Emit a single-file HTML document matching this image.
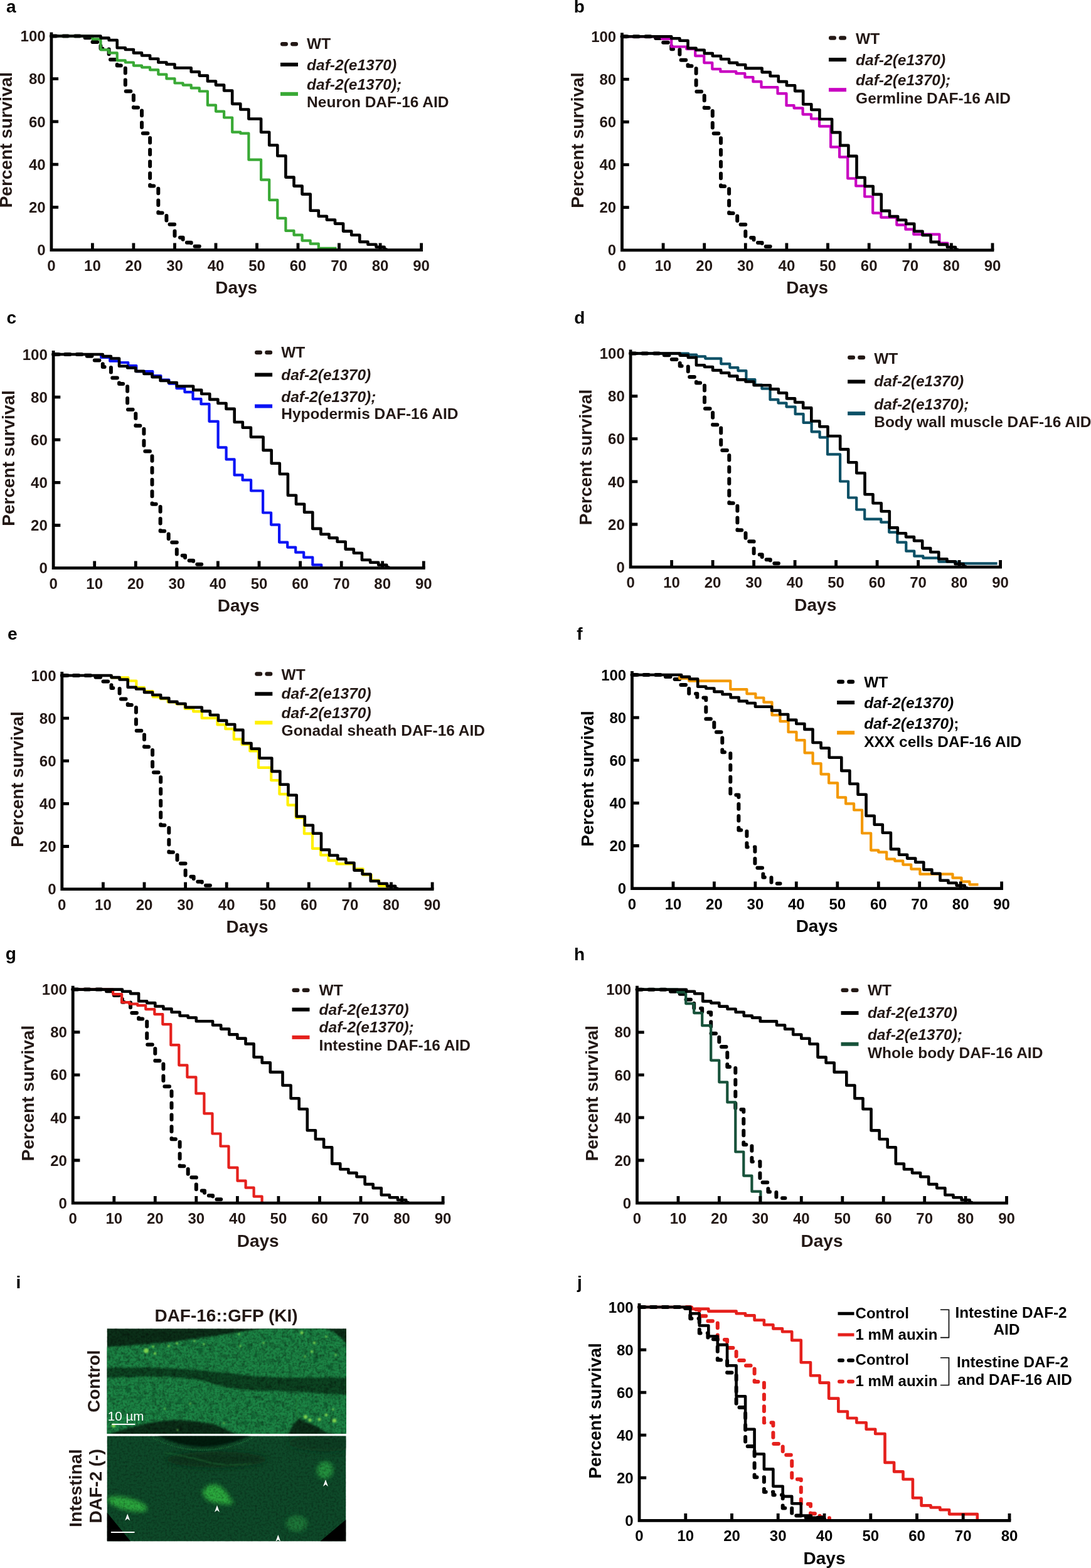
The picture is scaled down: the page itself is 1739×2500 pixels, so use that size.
<!DOCTYPE html>
<html><head><meta charset="utf-8"><style>
html,body{margin:0;padding:0;background:#fff;}
svg{display:block;}
text{font-family:"Liberation Sans",Arial,sans-serif;font-weight:bold;}
</style></head><body>
<svg width="1739" height="2500" viewBox="0 0 1739 2500">
<g>
<path d="M81.9 57.5H134.3V60.2H147.4V67.1H160.5V77.6H173.6V95.0H186.7V104.6H199.8V145.5H212.9V171.4H226.0V212.4H239.1V296.6H252.3V339.6H265.4V357.7H278.5V378.8H291.6V386.7H304.7V392.8H317.8" fill="none" stroke="#000" stroke-width="6.0" stroke-linecap="round" stroke-linejoin="round" stroke-dasharray="7.6 11.2"/>
<path d="M81.9 57.5H147.4V62.3H160.5V79.3H173.6V84.4H186.7V96.4H199.8V99.5H212.9V104.6H226.0V107.3H239.1V111.4H252.3V118.6H265.4V125.4H278.5V132.5H291.6V135.6H304.7V140.4H317.8V145.5H330.9V167.7H344.0V177.6H357.1V187.5H370.2V210.7H383.3V212.7H396.4V254.7H416.1V286.7H429.2V318.8H442.3V347.8H455.4V367.9H468.5V374.7H481.6V383.6H494.7V388.7H507.8V395.9H536.6" fill="none" stroke="#39a935" stroke-width="4.2" stroke-linejoin="round"/>
<path d="M81.9 57.5H160.5V60.6H173.6V64.0H186.7V76.3H199.8V79.0H212.9V84.4H226.0V88.5H239.1V93.7H252.3V99.5H265.4V102.5H278.5V108.3H304.7V114.5H317.8V120.6H330.9V129.5H344.0V135.6H357.1V144.5H370.2V165.6H383.3V174.5H396.4V189.5H416.1V210.7H429.2V231.5H442.3V248.5H455.4V282.6H468.5V296.6H481.6V309.6H494.7V335.8H507.8V344.7H520.9V350.5H534.0V356.6H547.1V368.6H560.2V374.7H573.3V385.6H586.4V389.7H599.5V393.8H612.6V397.6H615.9V398.6" fill="none" stroke="#000" stroke-width="4.6" stroke-linejoin="round"/>
<path d="M81.9 54.0V398.6H671.6" fill="none" stroke="#000" stroke-width="4.8" stroke-linecap="square"/>
<path d="M147.4 398.6V387.4M212.9 398.6V387.4M278.5 398.6V387.4M344.0 398.6V387.4M409.5 398.6V387.4M475.0 398.6V387.4M540.5 398.6V387.4M606.1 398.6V387.4M671.6 398.6V387.4M81.9 330.4H93.1M81.9 262.2H93.1M81.9 193.9H93.1M81.9 125.7H93.1M81.9 57.5H93.1" stroke="#000" stroke-width="4.8"/>
<text x="81.9" y="431.6" text-anchor="middle" font-size="24" fill="#231815">0</text>
<text x="147.4" y="431.6" text-anchor="middle" font-size="24" fill="#231815">10</text>
<text x="212.9" y="431.6" text-anchor="middle" font-size="24" fill="#231815">20</text>
<text x="278.5" y="431.6" text-anchor="middle" font-size="24" fill="#231815">30</text>
<text x="344.0" y="431.6" text-anchor="middle" font-size="24" fill="#231815">40</text>
<text x="409.5" y="431.6" text-anchor="middle" font-size="24" fill="#231815">50</text>
<text x="475.0" y="431.6" text-anchor="middle" font-size="24" fill="#231815">60</text>
<text x="540.5" y="431.6" text-anchor="middle" font-size="24" fill="#231815">70</text>
<text x="606.1" y="431.6" text-anchor="middle" font-size="24" fill="#231815">80</text>
<text x="671.6" y="431.6" text-anchor="middle" font-size="24" fill="#231815">90</text>
<text x="72.6" y="407.2" text-anchor="end" font-size="24" fill="#231815">0</text>
<text x="72.6" y="339.0" text-anchor="end" font-size="24" fill="#231815">20</text>
<text x="72.6" y="270.8" text-anchor="end" font-size="24" fill="#231815">40</text>
<text x="72.6" y="202.5" text-anchor="end" font-size="24" fill="#231815">60</text>
<text x="72.6" y="134.3" text-anchor="end" font-size="24" fill="#231815">80</text>
<text x="72.6" y="66.1" text-anchor="end" font-size="24" fill="#231815">100</text>
<text x="376.7" y="468.1" text-anchor="middle" font-size="28" fill="#231815">Days</text>
<text transform="translate(19.3 223.2) rotate(-90)" text-anchor="middle" font-size="28" fill="#231815">Percent survival</text>
<text x="10.0" y="20.1" font-size="28" fill="#000">a</text>
<path d="M450.2 70.2h5.5M466.3 70.2h5.5" stroke="#231815" stroke-width="6.5" stroke-linecap="round"/>
<path d="M447.0 102.9h28.0" stroke="#000" stroke-width="6"/>
<path d="M447.0 149.8h28.0" stroke="#39a935" stroke-width="6"/>
<text x="489.1" y="78.2" font-size="24.5" fill="#231815">WT</text>
<text x="489.1" y="112.0" font-size="24.5" font-style="italic" fill="#231815">daf-2(e1370)</text>
<text x="489.1" y="143.0" font-size="24.5" font-style="italic" fill="#231815">daf-2(e1370);</text>
<text x="489.1" y="171.2" font-size="24.5" fill="#231815">Neuron DAF-16 AID</text>
</g>
<g>
<path d="M991.5 58.2H1044.0V60.9H1057.1V67.7H1070.2V78.3H1083.4V95.7H1096.5V105.2H1109.6V146.1H1122.7V172.0H1135.8V212.8H1149.0V297.0H1162.1V339.9H1175.2V357.9H1188.3V379.0H1201.5V386.9H1214.6V393.0H1227.7" fill="none" stroke="#000" stroke-width="6.0" stroke-linecap="round" stroke-linejoin="round" stroke-dasharray="7.6 11.2"/>
<path d="M991.5 58.2H1055.1V62.0H1070.2V74.5H1094.2V78.1H1108.2V89.1H1122.3V100.1H1135.3V110.1H1148.3V114.2H1173.4V117.2H1187.4V123.2H1200.4V130.2H1213.5V139.2H1239.5V149.2H1253.5V168.2H1265.6V172.3H1279.6V182.3H1293.0V189.3H1306.0V201.3H1324.1V234.4H1338.1V250.4H1351.2V284.5H1364.2V296.5H1378.2V313.5H1391.2V339.6H1404.3V346.6H1429.3V358.6H1443.4V365.7H1456.3V373.7H1497.4V387.7H1510.5V396.3" fill="none" stroke="#c800c1" stroke-width="4.2" stroke-linejoin="round"/>
<path d="M991.5 58.2H1070.2V61.3H1083.4V64.7H1096.5V76.9H1109.6V79.7H1122.7V85.1H1135.8V89.2H1149.0V94.3H1162.1V100.1H1175.2V103.2H1188.3V108.9H1214.6V115.1H1227.7V121.2H1240.8V130.1H1253.9V136.2H1267.1V145.1H1280.2V166.2H1293.3V175.0H1306.4V190.0H1326.1V211.1H1339.2V231.9H1352.4V248.9H1365.5V283.0H1378.6V297.0H1391.7V309.9H1404.8V336.1H1418.0V345.0H1431.1V350.8H1444.2V356.9H1457.3V368.8H1470.5V375.0H1483.6V385.9H1496.7V389.9H1509.8V394.0H1522.9V397.8H1526.2V398.8" fill="none" stroke="#000" stroke-width="4.6" stroke-linejoin="round"/>
<path d="M991.5 54.7V398.8H1582.0" fill="none" stroke="#000" stroke-width="4.8" stroke-linecap="square"/>
<path d="M1057.1 398.8V387.6M1122.7 398.8V387.6M1188.3 398.8V387.6M1253.9 398.8V387.6M1319.5 398.8V387.6M1385.2 398.8V387.6M1450.8 398.8V387.6M1516.4 398.8V387.6M1582.0 398.8V387.6M991.5 330.7H1002.7M991.5 262.6H1002.7M991.5 194.4H1002.7M991.5 126.3H1002.7M991.5 58.2H1002.7" stroke="#000" stroke-width="4.8"/>
<text x="991.5" y="431.8" text-anchor="middle" font-size="24" fill="#231815">0</text>
<text x="1057.1" y="431.8" text-anchor="middle" font-size="24" fill="#231815">10</text>
<text x="1122.7" y="431.8" text-anchor="middle" font-size="24" fill="#231815">20</text>
<text x="1188.3" y="431.8" text-anchor="middle" font-size="24" fill="#231815">30</text>
<text x="1253.9" y="431.8" text-anchor="middle" font-size="24" fill="#231815">40</text>
<text x="1319.5" y="431.8" text-anchor="middle" font-size="24" fill="#231815">50</text>
<text x="1385.2" y="431.8" text-anchor="middle" font-size="24" fill="#231815">60</text>
<text x="1450.8" y="431.8" text-anchor="middle" font-size="24" fill="#231815">70</text>
<text x="1516.4" y="431.8" text-anchor="middle" font-size="24" fill="#231815">80</text>
<text x="1582.0" y="431.8" text-anchor="middle" font-size="24" fill="#231815">90</text>
<text x="982.2" y="407.4" text-anchor="end" font-size="24" fill="#231815">0</text>
<text x="982.2" y="339.3" text-anchor="end" font-size="24" fill="#231815">20</text>
<text x="982.2" y="271.2" text-anchor="end" font-size="24" fill="#231815">40</text>
<text x="982.2" y="203.0" text-anchor="end" font-size="24" fill="#231815">60</text>
<text x="982.2" y="134.9" text-anchor="end" font-size="24" fill="#231815">80</text>
<text x="982.2" y="66.8" text-anchor="end" font-size="24" fill="#231815">100</text>
<text x="1286.7" y="468.3" text-anchor="middle" font-size="28" fill="#231815">Days</text>
<text transform="translate(929.5 223.7) rotate(-90)" text-anchor="middle" font-size="28" fill="#231815">Percent survival</text>
<text x="914.7" y="19.9" font-size="28" fill="#000">b</text>
<path d="M1324.2 60.5h5.5M1340.3 60.5h5.5" stroke="#231815" stroke-width="6.5" stroke-linecap="round"/>
<path d="M1321.0 95.1h28.0" stroke="#000" stroke-width="6"/>
<path d="M1321.0 143.2h28.0" stroke="#c800c1" stroke-width="6"/>
<text x="1364.1" y="69.7" font-size="24.5" fill="#231815">WT</text>
<text x="1364.1" y="103.7" font-size="24.5" font-style="italic" fill="#231815">daf-2(e1370)</text>
<text x="1364.1" y="136.2" font-size="24.5" font-style="italic" fill="#231815">daf-2(e1370);</text>
<text x="1364.1" y="164.6" font-size="24.5" fill="#231815">Germline DAF-16 AID</text>
</g>
<g>
<path d="M85.1 565.0H137.6V567.7H150.7V574.5H163.8V585.1H176.9V602.5H190.0V612.0H203.1V652.9H216.3V678.8H229.4V719.6H242.5V803.8H255.6V846.7H268.7V864.7H281.8V885.8H295.0V893.7H308.1V899.8H321.2" fill="none" stroke="#000" stroke-width="6.0" stroke-linecap="round" stroke-linejoin="round" stroke-dasharray="7.6 11.2"/>
<path d="M85.1 565.0H161.2V570.0H175.2V575.7H190.2V578.0H204.3V583.1H217.3V592.1H243.3V599.1H256.4V605.7H269.4V611.7H281.4V619.1H294.4V625.1H307.5V636.2H320.5V644.2H333.5V671.8H347.6V713.3H360.6V732.4H373.6V757.4H386.6V765.4H400.1V782.5H419.1V817.5H432.1V836.6H445.1V864.6H458.2V872.6H471.2V880.7H484.2V888.7H498.3V900.7H512.3V905.6" fill="none" stroke="#0a14f5" stroke-width="4.2" stroke-linejoin="round"/>
<path d="M85.1 565.0H163.8V568.1H176.9V571.5H190.0V583.7H203.1V586.5H216.3V591.9H229.4V596.0H242.5V601.1H255.6V606.9H268.7V610.0H281.8V615.7H308.1V621.9H321.2V628.0H334.3V636.9H347.4V643.0H360.5V651.9H373.7V673.0H386.8V681.8H399.9V696.8H419.6V717.9H432.7V738.7H445.8V755.7H458.9V789.8H472.0V803.8H485.1V816.7H498.3V842.9H511.4V851.8H524.5V857.6H537.6V863.7H550.7V875.6H563.8V881.8H576.9V892.7H590.1V896.7H603.2V900.8H616.3V904.6H619.6V905.6" fill="none" stroke="#000" stroke-width="4.6" stroke-linejoin="round"/>
<path d="M85.1 561.5V905.6H675.3" fill="none" stroke="#000" stroke-width="4.8" stroke-linecap="square"/>
<path d="M150.7 905.6V894.4M216.3 905.6V894.4M281.8 905.6V894.4M347.4 905.6V894.4M413.0 905.6V894.4M478.6 905.6V894.4M544.2 905.6V894.4M609.7 905.6V894.4M675.3 905.6V894.4M85.1 837.5H96.3M85.1 769.4H96.3M85.1 701.2H96.3M85.1 633.1H96.3M85.1 565.0H96.3" stroke="#000" stroke-width="4.8"/>
<text x="85.1" y="938.6" text-anchor="middle" font-size="24" fill="#231815">0</text>
<text x="150.7" y="938.6" text-anchor="middle" font-size="24" fill="#231815">10</text>
<text x="216.3" y="938.6" text-anchor="middle" font-size="24" fill="#231815">20</text>
<text x="281.8" y="938.6" text-anchor="middle" font-size="24" fill="#231815">30</text>
<text x="347.4" y="938.6" text-anchor="middle" font-size="24" fill="#231815">40</text>
<text x="413.0" y="938.6" text-anchor="middle" font-size="24" fill="#231815">50</text>
<text x="478.6" y="938.6" text-anchor="middle" font-size="24" fill="#231815">60</text>
<text x="544.2" y="938.6" text-anchor="middle" font-size="24" fill="#231815">70</text>
<text x="609.7" y="938.6" text-anchor="middle" font-size="24" fill="#231815">80</text>
<text x="675.3" y="938.6" text-anchor="middle" font-size="24" fill="#231815">90</text>
<text x="75.8" y="914.2" text-anchor="end" font-size="24" fill="#231815">0</text>
<text x="75.8" y="846.1" text-anchor="end" font-size="24" fill="#231815">20</text>
<text x="75.8" y="778.0" text-anchor="end" font-size="24" fill="#231815">40</text>
<text x="75.8" y="709.8" text-anchor="end" font-size="24" fill="#231815">60</text>
<text x="75.8" y="641.7" text-anchor="end" font-size="24" fill="#231815">80</text>
<text x="75.8" y="573.6" text-anchor="end" font-size="24" fill="#231815">100</text>
<text x="380.2" y="975.1" text-anchor="middle" font-size="28" fill="#231815">Days</text>
<text transform="translate(23.2 730.5) rotate(-90)" text-anchor="middle" font-size="28" fill="#231815">Percent survival</text>
<text x="10.6" y="516.4" font-size="28" fill="#000">c</text>
<path d="M409.3 562.0h5.5M425.4 562.0h5.5" stroke="#231815" stroke-width="6.5" stroke-linecap="round"/>
<path d="M406.1 597.5h28.0" stroke="#000" stroke-width="6"/>
<path d="M406.1 647.6h28.0" stroke="#0a14f5" stroke-width="6"/>
<text x="448.2" y="570.0" font-size="24.5" fill="#231815">WT</text>
<text x="448.2" y="606.1" font-size="24.5" font-style="italic" fill="#231815">daf-2(e1370)</text>
<text x="448.2" y="641.2" font-size="24.5" font-style="italic" fill="#231815">daf-2(e1370);</text>
<text x="448.2" y="668.2" font-size="24.5" fill="#231815">Hypodermis DAF-16 AID</text>
</g>
<g>
<path d="M1005.1 563.5H1057.5V566.2H1070.6V573.0H1083.7V583.6H1096.8V601.0H1109.9V610.5H1123.0V651.4H1136.1V677.3H1149.2V718.1H1162.3V802.3H1175.4V845.2H1188.5V863.2H1201.6V884.3H1214.7V892.2H1227.8V898.3H1240.9" fill="none" stroke="#000" stroke-width="6.0" stroke-linecap="round" stroke-linejoin="round" stroke-dasharray="7.6 11.2"/>
<path d="M1005.1 563.5H1097.2V565.6H1110.2V568.4H1124.2V571.6H1149.3V580.1H1163.3V586.1H1176.4V591.1H1189.4V605.1H1203.4V613.7H1214.4V619.7H1227.5V637.2H1240.5V642.6H1253.5V648.6H1267.6V660.2H1280.6V673.9H1293.6V688.3H1306.6V697.3H1319.0V724.4H1339.1V767.5H1352.1V793.5H1365.2V812.5H1378.2V827.6H1404.3V832.6H1417.2V848.6H1430.3V864.6H1444.3V878.7H1457.3V886.7H1471.4V889.7H1496.4V895.7H1524.4V898.3H1589.6" fill="none" stroke="#0b5066" stroke-width="4.2" stroke-linejoin="round"/>
<path d="M1005.1 563.5H1083.7V566.6H1096.8V570.0H1109.9V582.2H1123.0V585.0H1136.1V590.4H1149.2V594.5H1162.3V599.6H1175.4V605.4H1188.5V608.5H1201.6V614.2H1227.8V620.4H1240.9V626.5H1254.0V635.4H1267.1V641.5H1280.2V650.4H1293.3V671.5H1306.4V680.3H1319.5V695.3H1339.2V716.4H1352.2V737.2H1365.3V754.2H1378.5V788.3H1391.5V802.3H1404.7V815.2H1417.8V841.4H1430.8V850.3H1444.0V856.1H1457.0V862.2H1470.2V874.1H1483.2V880.3H1496.3V891.2H1509.5V895.2H1522.5V899.3H1535.7V903.1H1538.9V904.1" fill="none" stroke="#000" stroke-width="4.6" stroke-linejoin="round"/>
<path d="M1005.1 560.0V904.1H1594.6" fill="none" stroke="#000" stroke-width="4.8" stroke-linecap="square"/>
<path d="M1070.6 904.1V892.9M1136.1 904.1V892.9M1201.6 904.1V892.9M1267.1 904.1V892.9M1332.6 904.1V892.9M1398.1 904.1V892.9M1463.6 904.1V892.9M1529.1 904.1V892.9M1594.6 904.1V892.9M1005.1 836.0H1016.3M1005.1 767.9H1016.3M1005.1 699.7H1016.3M1005.1 631.6H1016.3M1005.1 563.5H1016.3" stroke="#000" stroke-width="4.8"/>
<text x="1005.1" y="937.1" text-anchor="middle" font-size="24" fill="#231815">0</text>
<text x="1070.6" y="937.1" text-anchor="middle" font-size="24" fill="#231815">10</text>
<text x="1136.1" y="937.1" text-anchor="middle" font-size="24" fill="#231815">20</text>
<text x="1201.6" y="937.1" text-anchor="middle" font-size="24" fill="#231815">30</text>
<text x="1267.1" y="937.1" text-anchor="middle" font-size="24" fill="#231815">40</text>
<text x="1332.6" y="937.1" text-anchor="middle" font-size="24" fill="#231815">50</text>
<text x="1398.1" y="937.1" text-anchor="middle" font-size="24" fill="#231815">60</text>
<text x="1463.6" y="937.1" text-anchor="middle" font-size="24" fill="#231815">70</text>
<text x="1529.1" y="937.1" text-anchor="middle" font-size="24" fill="#231815">80</text>
<text x="1594.6" y="937.1" text-anchor="middle" font-size="24" fill="#231815">90</text>
<text x="995.8" y="912.7" text-anchor="end" font-size="24" fill="#231815">0</text>
<text x="995.8" y="844.6" text-anchor="end" font-size="24" fill="#231815">20</text>
<text x="995.8" y="776.5" text-anchor="end" font-size="24" fill="#231815">40</text>
<text x="995.8" y="708.3" text-anchor="end" font-size="24" fill="#231815">60</text>
<text x="995.8" y="640.2" text-anchor="end" font-size="24" fill="#231815">80</text>
<text x="995.8" y="572.1" text-anchor="end" font-size="24" fill="#231815">100</text>
<text x="1299.8" y="973.6" text-anchor="middle" font-size="28" fill="#231815">Days</text>
<text transform="translate(943.4 729.0) rotate(-90)" text-anchor="middle" font-size="28" fill="#231815">Percent survival</text>
<text x="915.2" y="516.4" font-size="28" fill="#000">d</text>
<path d="M1354.3 570.0h5.5M1370.4 570.0h5.5" stroke="#231815" stroke-width="6.5" stroke-linecap="round"/>
<path d="M1351.1 608.5h28.0" stroke="#000" stroke-width="6"/>
<path d="M1351.1 659.2h28.0" stroke="#0b5066" stroke-width="6"/>
<text x="1393.2" y="580.1" font-size="24.5" fill="#231815">WT</text>
<text x="1393.2" y="616.1" font-size="24.5" font-style="italic" fill="#231815">daf-2(e1370)</text>
<text x="1393.2" y="653.2" font-size="24.5" font-style="italic" fill="#231815">daf-2(e1370);</text>
<text x="1393.2" y="681.3" font-size="24.5" fill="#231815">Body wall muscle DAF-16 AID</text>
</g>
<g>
<path d="M98.8 1077.0H151.3V1079.7H164.4V1086.5H177.5V1097.1H190.6V1114.5H203.7V1124.0H216.9V1164.9H230.0V1190.8H243.1V1231.6H256.2V1315.8H269.3V1358.7H282.5V1376.7H295.6V1397.8H308.7V1405.7H321.8V1411.8H334.9" fill="none" stroke="#000" stroke-width="6.0" stroke-linecap="round" stroke-linejoin="round" stroke-dasharray="7.6 11.2"/>
<path d="M98.8 1077.0H177.5V1080.4H204.5V1085.5H217.3V1096.1H230.0V1102.1H243.6V1111.1H255.6V1114.1H267.6V1119.4H281.1V1122.4H294.7V1129.9H308.2V1134.4H321.7V1144.9H346.5V1155.4H359.3V1162.2H372.8V1178.7H385.6V1187.0H398.3V1197.5H411.9V1223.8H432.2V1244.1H445.4V1266.1H458.6V1283.6H471.7V1303.8H484.9V1329.2H498.0V1352.9H511.2V1363.4H523.4V1372.1H536.6V1377.4H563.8V1385.3H578.7V1394.9H591.8V1403.7H604.1V1412.5H616.4V1416.3H619.0" fill="none" stroke="#fff000" stroke-width="4.2" stroke-linejoin="round"/>
<path d="M98.8 1077.0H177.5V1080.1H190.6V1083.5H203.7V1095.7H216.9V1098.5H230.0V1103.9H243.1V1108.0H256.2V1113.1H269.3V1118.9H282.5V1122.0H295.6V1127.7H321.8V1133.9H334.9V1140.0H348.0V1148.9H361.2V1155.0H374.3V1163.9H387.4V1185.0H400.5V1193.8H413.6V1208.8H433.3V1229.9H446.4V1250.7H459.5V1267.7H472.7V1301.8H485.8V1315.8H498.9V1328.7H512.0V1354.9H525.1V1363.8H538.3V1369.6H551.4V1375.7H564.5V1387.6H577.6V1393.8H590.7V1404.7H603.8V1408.7H617.0V1412.8H630.1V1416.6H633.4V1417.6" fill="none" stroke="#000" stroke-width="4.6" stroke-linejoin="round"/>
<path d="M98.8 1073.5V1417.6H689.1" fill="none" stroke="#000" stroke-width="4.8" stroke-linecap="square"/>
<path d="M164.4 1417.6V1406.4M230.0 1417.6V1406.4M295.6 1417.6V1406.4M361.2 1417.6V1406.4M426.8 1417.6V1406.4M492.3 1417.6V1406.4M557.9 1417.6V1406.4M623.5 1417.6V1406.4M689.1 1417.6V1406.4M98.8 1349.5H110.0M98.8 1281.4H110.0M98.8 1213.2H110.0M98.8 1145.1H110.0M98.8 1077.0H110.0" stroke="#000" stroke-width="4.8"/>
<text x="98.8" y="1450.6" text-anchor="middle" font-size="24" fill="#231815">0</text>
<text x="164.4" y="1450.6" text-anchor="middle" font-size="24" fill="#231815">10</text>
<text x="230.0" y="1450.6" text-anchor="middle" font-size="24" fill="#231815">20</text>
<text x="295.6" y="1450.6" text-anchor="middle" font-size="24" fill="#231815">30</text>
<text x="361.2" y="1450.6" text-anchor="middle" font-size="24" fill="#231815">40</text>
<text x="426.8" y="1450.6" text-anchor="middle" font-size="24" fill="#231815">50</text>
<text x="492.3" y="1450.6" text-anchor="middle" font-size="24" fill="#231815">60</text>
<text x="557.9" y="1450.6" text-anchor="middle" font-size="24" fill="#231815">70</text>
<text x="623.5" y="1450.6" text-anchor="middle" font-size="24" fill="#231815">80</text>
<text x="689.1" y="1450.6" text-anchor="middle" font-size="24" fill="#231815">90</text>
<text x="89.5" y="1426.2" text-anchor="end" font-size="24" fill="#231815">0</text>
<text x="89.5" y="1358.1" text-anchor="end" font-size="24" fill="#231815">20</text>
<text x="89.5" y="1290.0" text-anchor="end" font-size="24" fill="#231815">40</text>
<text x="89.5" y="1221.8" text-anchor="end" font-size="24" fill="#231815">60</text>
<text x="89.5" y="1153.7" text-anchor="end" font-size="24" fill="#231815">80</text>
<text x="89.5" y="1085.6" text-anchor="end" font-size="24" fill="#231815">100</text>
<text x="394.0" y="1487.1" text-anchor="middle" font-size="28" fill="#231815">Days</text>
<text transform="translate(37.1 1242.5) rotate(-90)" text-anchor="middle" font-size="28" fill="#231815">Percent survival</text>
<text x="12.1" y="1020.0" font-size="28" fill="#000">e</text>
<path d="M409.5 1074.5h5.5M425.6 1074.5h5.5" stroke="#231815" stroke-width="6.5" stroke-linecap="round"/>
<path d="M406.3 1106.3h28.0" stroke="#000" stroke-width="6"/>
<path d="M406.3 1152.2h28.0" stroke="#fff000" stroke-width="6"/>
<text x="448.6" y="1083.8" font-size="24.5" fill="#231815">WT</text>
<text x="448.6" y="1113.9" font-size="24.5" font-style="italic" fill="#231815">daf-2(e1370)</text>
<text x="448.6" y="1145.2" font-size="24.5" font-style="italic" fill="#231815">daf-2(e1370)</text>
<text x="448.6" y="1172.7" font-size="24.5" fill="#231815">Gonadal sheath DAF-16 AID</text>
</g>
<g>
<path d="M1007.5 1076.0H1060.1V1079.0H1073.2V1083.1H1084.2V1092.1H1098.2V1106.1H1111.3V1112.5H1125.3V1146.2H1138.3V1167.2H1151.3V1199.3H1164.3V1267.4H1177.4V1323.5H1190.4V1350.6H1203.4V1383.7H1216.4V1398.7H1229.5V1408.7H1243.5" fill="none" stroke="#000" stroke-width="6.0" stroke-linecap="round" stroke-linejoin="round" stroke-dasharray="7.6 11.2"/>
<path d="M1007.5 1076.0H1083.2V1081.7H1098.2V1085.6H1164.3V1099.1H1190.4V1106.1H1204.4V1112.5H1217.4V1119.7H1230.5V1140.2H1243.5V1150.2H1256.5V1167.2H1269.5V1180.2H1282.6V1200.3H1295.6V1217.3H1308.6V1234.3H1321.1V1248.4H1335.1V1271.4H1348.1V1281.4H1361.1V1291.5H1374.1V1328.5H1388.2V1355.6H1400.2V1358.6H1413.2V1369.6H1426.2V1372.6H1439.3V1378.6H1452.3V1385.6H1466.4V1393.7H1518.5V1399.7H1532.5V1405.7H1545.5V1410.3H1559.5" fill="none" stroke="#f39800" stroke-width="4.2" stroke-linejoin="round"/>
<path d="M1007.5 1076.0H1086.1V1079.1H1099.1V1082.5H1112.2V1094.7H1125.3V1097.5H1138.4V1102.9H1151.5V1107.0H1164.6V1112.1H1177.7V1117.9H1190.8V1121.0H1203.9V1126.7H1230.1V1132.9H1243.2V1139.0H1256.2V1147.9H1269.3V1154.0H1282.4V1162.9H1295.5V1184.0H1308.6V1192.8H1321.7V1207.8H1341.3V1228.9H1354.4V1249.7H1367.5V1266.7H1380.6V1300.8H1393.7V1314.8H1406.8V1327.7H1419.9V1353.9H1433.0V1362.8H1446.1V1368.6H1459.2V1374.7H1472.3V1386.6H1485.4V1392.8H1498.5V1403.7H1511.5V1407.7H1524.6V1411.8H1537.7V1415.6H1541.0V1416.6" fill="none" stroke="#000" stroke-width="4.6" stroke-linejoin="round"/>
<path d="M1007.5 1072.5V1416.6H1596.6" fill="none" stroke="#000" stroke-width="4.8" stroke-linecap="square"/>
<path d="M1073.0 1416.6V1405.4M1138.4 1416.6V1405.4M1203.9 1416.6V1405.4M1269.3 1416.6V1405.4M1334.8 1416.6V1405.4M1400.3 1416.6V1405.4M1465.7 1416.6V1405.4M1531.2 1416.6V1405.4M1596.6 1416.6V1405.4M1007.5 1348.5H1018.7M1007.5 1280.4H1018.7M1007.5 1212.2H1018.7M1007.5 1144.1H1018.7M1007.5 1076.0H1018.7" stroke="#000" stroke-width="4.8"/>
<text x="1007.5" y="1449.6" text-anchor="middle" font-size="24" fill="#000">0</text>
<text x="1073.0" y="1449.6" text-anchor="middle" font-size="24" fill="#000">10</text>
<text x="1138.4" y="1449.6" text-anchor="middle" font-size="24" fill="#000">20</text>
<text x="1203.9" y="1449.6" text-anchor="middle" font-size="24" fill="#000">30</text>
<text x="1269.3" y="1449.6" text-anchor="middle" font-size="24" fill="#000">40</text>
<text x="1334.8" y="1449.6" text-anchor="middle" font-size="24" fill="#000">50</text>
<text x="1400.3" y="1449.6" text-anchor="middle" font-size="24" fill="#000">60</text>
<text x="1465.7" y="1449.6" text-anchor="middle" font-size="24" fill="#000">70</text>
<text x="1531.2" y="1449.6" text-anchor="middle" font-size="24" fill="#000">80</text>
<text x="1596.6" y="1449.6" text-anchor="middle" font-size="24" fill="#000">90</text>
<text x="998.2" y="1425.2" text-anchor="end" font-size="24" fill="#000">0</text>
<text x="998.2" y="1357.1" text-anchor="end" font-size="24" fill="#000">20</text>
<text x="998.2" y="1289.0" text-anchor="end" font-size="24" fill="#000">40</text>
<text x="998.2" y="1220.8" text-anchor="end" font-size="24" fill="#000">60</text>
<text x="998.2" y="1152.7" text-anchor="end" font-size="24" fill="#000">80</text>
<text x="998.2" y="1084.6" text-anchor="end" font-size="24" fill="#000">100</text>
<text x="1302.1" y="1486.1" text-anchor="middle" font-size="28" fill="#000">Days</text>
<text transform="translate(945.5 1241.5) rotate(-90)" text-anchor="middle" font-size="28" fill="#000">Percent survival</text>
<text x="919.2" y="1019.8" font-size="28" fill="#000">f</text>
<path d="M1337.3 1087.1h5.5M1353.4 1087.1h5.5" stroke="#000" stroke-width="6.5" stroke-linecap="round"/>
<path d="M1334.1 1120.1h28.0" stroke="#000" stroke-width="6"/>
<path d="M1334.1 1168.2h28.0" stroke="#f39800" stroke-width="6"/>
<text x="1377.2" y="1096.1" font-size="24.5" fill="#000">WT</text>
<text x="1377.2" y="1129.1" font-size="24.5" font-style="italic" fill="#000">daf-2(e1370)</text>
<text x="1377.2" y="1162.2" font-size="24.5" fill="#000"><tspan font-style="italic">daf-2(e1370)</tspan>;</text>
<text x="1377.2" y="1191.3" font-size="24.5" fill="#000">XXX cells DAF-16 AID</text>
</g>
<g>
<path d="M116.2 1577.6H168.6V1580.3H181.8V1587.1H194.9V1597.7H208.0V1615.1H221.1V1624.6H234.2V1665.4H247.3V1691.3H260.4V1732.2H273.5V1816.3H286.6V1859.2H299.7V1877.2H312.8V1898.4H326.0V1906.2H339.1V1912.3H352.2" fill="none" stroke="#000" stroke-width="6.0" stroke-linecap="round" stroke-linejoin="round" stroke-dasharray="7.6 11.2"/>
<path d="M116.2 1577.6H180.1V1585.1H194.1V1598.1H206.2V1600.7H219.2V1603.1H232.2V1609.1H246.3V1617.1H259.3V1633.1H272.3V1666.2H285.3V1698.3H298.4V1717.3H312.4V1743.4H325.4V1775.4H338.5V1807.5H351.5V1827.5H364.5V1861.6H378.5V1882.7H391.6V1893.7H404.6V1907.7H417.6V1916.3" fill="none" stroke="#e5201c" stroke-width="4.2" stroke-linejoin="round"/>
<path d="M116.2 1577.6H194.9V1580.7H208.0V1584.1H221.1V1596.3H234.2V1599.1H247.3V1604.5H260.4V1608.6H273.5V1613.7H286.6V1619.5H299.7V1622.5H312.8V1628.3H339.1V1634.5H352.2V1640.6H365.3V1649.4H378.4V1655.6H391.5V1664.4H404.6V1685.5H417.7V1694.4H430.8V1709.4H450.5V1730.5H463.6V1751.3H476.7V1768.3H489.8V1802.3H502.9V1816.3H516.1V1829.2H529.2V1855.4H542.3V1864.3H555.4V1870.1H568.5V1876.2H581.6V1888.1H594.7V1894.3H607.8V1905.2H620.9V1909.2H634.0V1913.3H647.2V1917.1H650.4V1918.1" fill="none" stroke="#000" stroke-width="4.6" stroke-linejoin="round"/>
<path d="M116.2 1574.1V1918.1H706.1" fill="none" stroke="#000" stroke-width="4.8" stroke-linecap="square"/>
<path d="M181.8 1918.1V1906.9M247.3 1918.1V1906.9M312.8 1918.1V1906.9M378.4 1918.1V1906.9M443.9 1918.1V1906.9M509.5 1918.1V1906.9M575.0 1918.1V1906.9M640.6 1918.1V1906.9M706.1 1918.1V1906.9M116.2 1850.0H127.4M116.2 1781.9H127.4M116.2 1713.8H127.4M116.2 1645.7H127.4M116.2 1577.6H127.4" stroke="#000" stroke-width="4.8"/>
<text x="116.2" y="1951.1" text-anchor="middle" font-size="24" fill="#231815">0</text>
<text x="181.8" y="1951.1" text-anchor="middle" font-size="24" fill="#231815">10</text>
<text x="247.3" y="1951.1" text-anchor="middle" font-size="24" fill="#231815">20</text>
<text x="312.8" y="1951.1" text-anchor="middle" font-size="24" fill="#231815">30</text>
<text x="378.4" y="1951.1" text-anchor="middle" font-size="24" fill="#231815">40</text>
<text x="443.9" y="1951.1" text-anchor="middle" font-size="24" fill="#231815">50</text>
<text x="509.5" y="1951.1" text-anchor="middle" font-size="24" fill="#231815">60</text>
<text x="575.0" y="1951.1" text-anchor="middle" font-size="24" fill="#231815">70</text>
<text x="640.6" y="1951.1" text-anchor="middle" font-size="24" fill="#231815">80</text>
<text x="706.1" y="1951.1" text-anchor="middle" font-size="24" fill="#231815">90</text>
<text x="106.9" y="1926.7" text-anchor="end" font-size="24" fill="#231815">0</text>
<text x="106.9" y="1858.6" text-anchor="end" font-size="24" fill="#231815">20</text>
<text x="106.9" y="1790.5" text-anchor="end" font-size="24" fill="#231815">40</text>
<text x="106.9" y="1722.4" text-anchor="end" font-size="24" fill="#231815">60</text>
<text x="106.9" y="1654.3" text-anchor="end" font-size="24" fill="#231815">80</text>
<text x="106.9" y="1586.2" text-anchor="end" font-size="24" fill="#231815">100</text>
<text x="411.2" y="1987.6" text-anchor="middle" font-size="28" fill="#231815">Days</text>
<text transform="translate(54.4 1743.0) rotate(-90)" text-anchor="middle" font-size="28" fill="#231815">Percent survival</text>
<text x="8.8" y="1530.4" font-size="28" fill="#000">g</text>
<path d="M468.7 1578.8h5.5M484.8 1578.8h5.5" stroke="#231815" stroke-width="6.5" stroke-linecap="round"/>
<path d="M465.5 1609.6h28.0" stroke="#000" stroke-width="6"/>
<path d="M465.5 1653.9h28.0" stroke="#e5201c" stroke-width="6"/>
<text x="508.6" y="1587.1" font-size="24.5" fill="#231815">WT</text>
<text x="508.6" y="1617.6" font-size="24.5" font-style="italic" fill="#231815">daf-2(e1370)</text>
<text x="508.6" y="1646.4" font-size="24.5" font-style="italic" fill="#231815">daf-2(e1370);</text>
<text x="508.6" y="1675.2" font-size="24.5" fill="#231815">Intestine DAF-16 AID</text>
</g>
<g>
<path d="M1015.5 1577.7H1068.1V1580.7H1081.1V1584.7H1092.1V1593.8H1106.2V1607.8H1119.2V1614.2H1133.2V1647.8H1146.3V1668.9H1159.3V1700.9H1172.3V1769.0H1185.3V1825.1H1198.4V1852.1H1211.4V1885.2H1224.4V1900.2H1237.4V1910.2H1251.4" fill="none" stroke="#000" stroke-width="6.0" stroke-linecap="round" stroke-linejoin="round" stroke-dasharray="7.6 11.2"/>
<path d="M1015.5 1577.7H1080.2V1582.1H1093.2V1600.1H1106.2V1615.1H1119.2V1635.2H1133.2V1690.6H1146.3V1725.3H1159.3V1757.4H1172.3V1836.5H1185.3V1874.6H1198.4V1899.7H1212.4V1916.3" fill="none" stroke="#17523a" stroke-width="4.2" stroke-linejoin="round"/>
<path d="M1015.5 1577.7H1094.0V1580.8H1107.1V1584.2H1120.2V1596.4H1133.3V1599.1H1146.4V1604.6H1159.5V1608.7H1172.6V1613.8H1185.7V1619.6H1198.8V1622.6H1211.8V1628.4H1238.0V1634.5H1251.1V1640.7H1264.2V1649.5H1277.3V1655.7H1290.4V1664.5H1303.5V1685.6H1316.6V1694.5H1329.7V1709.4H1349.3V1730.5H1362.4V1751.3H1375.5V1768.3H1388.6V1802.4H1401.7V1816.3H1414.7V1829.3H1427.8V1855.5H1440.9V1864.3H1454.0V1870.1H1467.1V1876.2H1480.2V1888.1H1493.3V1894.3H1506.4V1905.2H1519.5V1909.2H1532.6V1913.3H1545.6V1917.1H1548.9V1918.1" fill="none" stroke="#000" stroke-width="4.6" stroke-linejoin="round"/>
<path d="M1015.5 1574.2V1918.1H1604.5" fill="none" stroke="#000" stroke-width="4.8" stroke-linecap="square"/>
<path d="M1081.0 1918.1V1906.9M1146.4 1918.1V1906.9M1211.8 1918.1V1906.9M1277.3 1918.1V1906.9M1342.8 1918.1V1906.9M1408.2 1918.1V1906.9M1473.7 1918.1V1906.9M1539.1 1918.1V1906.9M1604.5 1918.1V1906.9M1015.5 1850.0H1026.7M1015.5 1781.9H1026.7M1015.5 1713.9H1026.7M1015.5 1645.8H1026.7M1015.5 1577.7H1026.7" stroke="#000" stroke-width="4.8"/>
<text x="1015.5" y="1951.1" text-anchor="middle" font-size="24" fill="#231815">0</text>
<text x="1081.0" y="1951.1" text-anchor="middle" font-size="24" fill="#231815">10</text>
<text x="1146.4" y="1951.1" text-anchor="middle" font-size="24" fill="#231815">20</text>
<text x="1211.8" y="1951.1" text-anchor="middle" font-size="24" fill="#231815">30</text>
<text x="1277.3" y="1951.1" text-anchor="middle" font-size="24" fill="#231815">40</text>
<text x="1342.8" y="1951.1" text-anchor="middle" font-size="24" fill="#231815">50</text>
<text x="1408.2" y="1951.1" text-anchor="middle" font-size="24" fill="#231815">60</text>
<text x="1473.7" y="1951.1" text-anchor="middle" font-size="24" fill="#231815">70</text>
<text x="1539.1" y="1951.1" text-anchor="middle" font-size="24" fill="#231815">80</text>
<text x="1604.5" y="1951.1" text-anchor="middle" font-size="24" fill="#231815">90</text>
<text x="1006.2" y="1926.7" text-anchor="end" font-size="24" fill="#231815">0</text>
<text x="1006.2" y="1858.6" text-anchor="end" font-size="24" fill="#231815">20</text>
<text x="1006.2" y="1790.5" text-anchor="end" font-size="24" fill="#231815">40</text>
<text x="1006.2" y="1722.5" text-anchor="end" font-size="24" fill="#231815">60</text>
<text x="1006.2" y="1654.4" text-anchor="end" font-size="24" fill="#231815">80</text>
<text x="1006.2" y="1586.3" text-anchor="end" font-size="24" fill="#231815">100</text>
<text x="1310.0" y="1987.6" text-anchor="middle" font-size="28" fill="#231815">Days</text>
<text transform="translate(953.4 1743.1) rotate(-90)" text-anchor="middle" font-size="28" fill="#231815">Percent survival</text>
<text x="915.1" y="1530.7" font-size="28" fill="#000">h</text>
<path d="M1343.7 1578.8h5.5M1359.8 1578.8h5.5" stroke="#231815" stroke-width="6.5" stroke-linecap="round"/>
<path d="M1340.5 1615.1h28.0" stroke="#000" stroke-width="6"/>
<path d="M1340.5 1664.7h28.0" stroke="#17523a" stroke-width="6"/>
<text x="1382.9" y="1587.1" font-size="24.5" fill="#231815">WT</text>
<text x="1382.9" y="1623.1" font-size="24.5" font-style="italic" fill="#231815">daf-2(e1370)</text>
<text x="1382.9" y="1657.7" font-size="24.5" font-style="italic" fill="#231815">daf-2(e1370);</text>
<text x="1382.9" y="1686.5" font-size="24.5" fill="#231815">Whole body DAF-16 AID</text>
</g>
<g>
<path d="M1019.0 2084.0H1100.3V2087.7H1114.8V2098.2H1128.4V2106.3H1143.8V2136.1H1159.1V2149.0H1173.6V2169.1H1187.3V2177.2H1202.6V2203.0H1217.9V2268.3H1232.4V2302.1H1247.7V2319.8H1262.2V2358.5H1276.8V2398.0H1292.0V2413.3H1306.6V2419.0H1321.9V2422.7" fill="none" stroke="#e5201c" stroke-width="6.0" stroke-linecap="round" stroke-linejoin="round" stroke-dasharray="7.6 11.2"/>
<path d="M1019.0 2084.0H1102.7V2086.9H1129.3V2090.6H1173.6V2094.2H1188.1V2097.4H1202.6V2104.7H1217.9V2112.2H1232.4V2118.4H1247.0V2123.2H1262.2V2136.9H1276.8V2172.3H1292.0V2193.3H1306.6V2204.6H1321.1V2229.6H1336.3V2250.5H1350.9V2261.0H1365.4V2268.3H1380.7V2278.7H1395.2V2286.0H1410.5V2331.9H1425.1V2346.4H1439.5V2358.5H1454.9V2388.3H1468.6V2400.4H1483.6V2403.5H1498.4V2407.3H1513.1V2414.1H1557.8H1557.8V2423.3" fill="none" stroke="#e5201c" stroke-width="4.6" stroke-linejoin="round"/>
<path d="M1019.0 2084.0H1090.6V2086.1H1100.3V2102.2H1114.8V2125.6H1128.4V2135.3H1143.8V2168.3H1159.1V2188.5H1173.6V2244.1H1188.1V2306.1H1202.6V2355.3H1217.9V2378.7H1232.4V2383.5H1247.7V2404.5H1262.2V2416.5H1276.8V2419.8H1310.6V2422.7" fill="none" stroke="#000" stroke-width="6.0" stroke-linecap="round" stroke-linejoin="round" stroke-dasharray="7.6 11.2"/>
<path d="M1019.0 2084.0H1100.3V2094.2H1114.8V2113.5H1129.3V2130.5H1143.8V2144.1H1159.1V2177.2H1173.6V2226.3H1188.1V2278.7H1202.6V2318.2H1217.9V2342.4H1232.4V2369.8H1247.7V2385.9H1262.2V2397.2H1276.8V2416.5H1292.8V2419.8H1313.9V2422.7H1317.0" fill="none" stroke="#000" stroke-width="4.6" stroke-linejoin="round"/>
<path d="M1019.0 2080.5V2424.3H1609.0" fill="none" stroke="#000" stroke-width="4.8" stroke-linecap="square"/>
<path d="M1092.8 2424.3V2413.1M1166.5 2424.3V2413.1M1240.2 2424.3V2413.1M1314.0 2424.3V2413.1M1387.8 2424.3V2413.1M1461.5 2424.3V2413.1M1535.2 2424.3V2413.1M1609.0 2424.3V2413.1M1019.0 2356.2H1030.2M1019.0 2288.2H1030.2M1019.0 2220.1H1030.2M1019.0 2152.1H1030.2M1019.0 2084.0H1030.2" stroke="#000" stroke-width="4.8"/>
<text x="1019.0" y="2457.3" text-anchor="middle" font-size="24" fill="#000">0</text>
<text x="1092.8" y="2457.3" text-anchor="middle" font-size="24" fill="#000">10</text>
<text x="1166.5" y="2457.3" text-anchor="middle" font-size="24" fill="#000">20</text>
<text x="1240.2" y="2457.3" text-anchor="middle" font-size="24" fill="#000">30</text>
<text x="1314.0" y="2457.3" text-anchor="middle" font-size="24" fill="#000">40</text>
<text x="1387.8" y="2457.3" text-anchor="middle" font-size="24" fill="#000">50</text>
<text x="1461.5" y="2457.3" text-anchor="middle" font-size="24" fill="#000">60</text>
<text x="1535.2" y="2457.3" text-anchor="middle" font-size="24" fill="#000">70</text>
<text x="1609.0" y="2457.3" text-anchor="middle" font-size="24" fill="#000">80</text>
<text x="1009.7" y="2432.9" text-anchor="end" font-size="24" fill="#000">0</text>
<text x="1009.7" y="2364.8" text-anchor="end" font-size="24" fill="#000">20</text>
<text x="1009.7" y="2296.8" text-anchor="end" font-size="24" fill="#000">40</text>
<text x="1009.7" y="2228.7" text-anchor="end" font-size="24" fill="#000">60</text>
<text x="1009.7" y="2160.7" text-anchor="end" font-size="24" fill="#000">80</text>
<text x="1009.7" y="2092.6" text-anchor="end" font-size="24" fill="#000">100</text>
<text x="1314.0" y="2493.8" text-anchor="middle" font-size="28" fill="#000">Days</text>
<text transform="translate(957.5 2249.3) rotate(-90)" text-anchor="middle" font-size="28" fill="#000">Percent survival</text>
<text x="920.0" y="2054.0" font-size="28" fill="#000">j</text>
<path d="M1335.5 2094.3h26" stroke="#000" stroke-width="5"/>
<path d="M1335.5 2128.1h26" stroke="#e5201c" stroke-width="5"/>
<path d="M1338 2168.9h5M1353 2168.9h6" stroke="#000" stroke-width="6" stroke-linecap="round"/>
<path d="M1338 2202.7h5M1353 2202.7h6" stroke="#e5201c" stroke-width="6" stroke-linecap="round"/>
<text x="1363.6" y="2101.8" font-size="24" fill="#000">Control</text>
<text x="1363.6" y="2135.6" font-size="24" fill="#000">1 mM auxin</text>
<text x="1363.6" y="2176.4" font-size="24" fill="#000">Control</text>
<text x="1363.6" y="2210.3" font-size="24" fill="#000">1 mM auxin</text>
<path d="M1499 2088.3H1512.5V2132.6H1499M1499 2164.7H1512.5V2208.5H1499" fill="none" stroke="#000" stroke-width="1.6"/>
<text x="1611.5" y="2100.6" text-anchor="middle" font-size="24.3" fill="#000">Intestine DAF-2</text>
<text x="1604.5" y="2128.1" text-anchor="middle" font-size="24.3" fill="#000">AID</text>
<text x="1614" y="2180.2" text-anchor="middle" font-size="24.3" fill="#000">Intestine DAF-2</text>
<text x="1617.5" y="2207.8" text-anchor="middle" font-size="24.3" fill="#000">and DAF-16 AID</text>
</g>
<g>
<defs>
<clipPath id="ci1"><rect x="170.5" y="2118.2" width="381.5" height="168"/></clipPath>
<clipPath id="ci2"><rect x="170.5" y="2289.4" width="381" height="168.2"/></clipPath>
<filter id="bl2" x="-10%" y="-10%" width="120%" height="120%"><feGaussianBlur stdDeviation="1.8"/></filter>
<filter id="bl3" x="-20%" y="-50%" width="140%" height="200%"><feGaussianBlur stdDeviation="3"/></filter>
<filter id="bl4" x="-50%" y="-50%" width="200%" height="200%"><feGaussianBlur stdDeviation="4"/></filter>
<filter id="bl1" x="-50%" y="-50%" width="200%" height="200%"><feGaussianBlur stdDeviation="0.9"/></filter>
<filter id="noise" x="0" y="0" width="100%" height="100%">
<feTurbulence type="fractalNoise" baseFrequency="0.3" numOctaves="2" seed="7" result="n"/>
<feColorMatrix in="n" type="matrix" values="0 0 0 0 0  0 0 0 0 0  0 0 0 0 0  0 0 0 -1.6 0.95"/>
</filter>
<filter id="noise2" x="0" y="0" width="100%" height="100%">
<feTurbulence type="fractalNoise" baseFrequency="0.12" numOctaves="2" seed="11" result="n"/>
<feColorMatrix in="n" type="matrix" values="0 0 0 0 0  0 0 0 0 0  0 0 0 0 0  0 0 0 -2.2 1.2"/>
</filter>
<filter id="noise3" x="0" y="0" width="100%" height="100%">
<feTurbulence type="fractalNoise" baseFrequency="0.5" numOctaves="1" seed="4" result="n"/>
<feColorMatrix in="n" type="matrix" values="0 0 0 0 0.2  0 0 0 0 0.75  0 0 0 0 0.3  0 0 0 -2.4 1.2"/>
</filter>
</defs>
<text x="25.6" y="2054.4" font-size="28" fill="#000">i</text>
<text x="360.5" y="2106.7" text-anchor="middle" font-size="28" fill="#231815">DAF-16::GFP (KI)</text>
<g clip-path="url(#ci1)">
<rect x="170.5" y="2118.2" width="381.5" height="168" fill="#0c3019"/>
<g filter="url(#bl2)">
<path d="M165 2148 L220 2144 L260 2141 L300 2136 L335 2131 L360 2127 L385 2123 L420 2118 L515 2117 L530 2122 L545 2134 L560 2152 L560 2196 L500 2196 L450 2196 L410 2195 L370 2190 L335 2186 L300 2183 L260 2181 L220 2180 L165 2180 Z" fill="#1b8544"/>
<path d="M165 2180 L220 2180 L260 2181 L300 2183 L335 2186 L370 2190 L410 2195 L450 2196 L500 2196 L560 2196 L560 2225 L500 2221 L450 2218 L410 2217.5 L380 2215 L360 2212.5 L335 2205 L310 2199 L270 2195.5 L235 2195 L200 2196 L165 2197 Z" fill="#0d4524"/>
<path d="M165 2197 L200 2196 L235 2195 L270 2195.5 L310 2199 L335 2205 L360 2212.5 L380 2215 L410 2217.5 L450 2218 L500 2221 L560 2225 L560 2290 L535 2287 L523 2285 L500 2272 L476 2262 L468 2270 L460 2285 L446 2290 L385 2290 L373 2285 L340 2270 L300 2265 L272 2264 L240 2268 L200 2278 L177 2285 L165 2290 Z" fill="#1b8544"/>
</g>
<rect x="170.5" y="2118.2" width="381.5" height="168" filter="url(#noise)" opacity="0.5"/>
<rect x="170.5" y="2118.2" width="381.5" height="168" filter="url(#noise2)" opacity="0.3"/>
<g fill="#0b5a2e" opacity="0.75" filter="url(#bl1)"><circle cx="301" cy="2141" r="3.0"/><circle cx="319" cy="2153" r="3.5"/><circle cx="329" cy="2167" r="2.0"/><circle cx="397" cy="2148" r="3.0"/><circle cx="408" cy="2160" r="2.8"/><circle cx="427" cy="2133" r="2.9"/><circle cx="450" cy="2151" r="2.4"/><circle cx="456" cy="2168" r="2.3"/><circle cx="467" cy="2138" r="3.0"/><circle cx="503" cy="2168" r="3.4"/><circle cx="517" cy="2149" r="3.6"/><circle cx="525" cy="2180" r="3.5"/><circle cx="542" cy="2170" r="2.3"/><circle cx="287" cy="2234" r="3.5"/><circle cx="297" cy="2248" r="2.6"/><circle cx="313" cy="2242" r="2.1"/><circle cx="331" cy="2257" r="2.0"/><circle cx="346" cy="2246" r="2.5"/><circle cx="359" cy="2262" r="2.5"/><circle cx="377" cy="2248" r="2.1"/><circle cx="392" cy="2268" r="3.2"/><circle cx="404" cy="2258" r="3.3"/><circle cx="417" cy="2270" r="2.0"/><circle cx="433" cy="2263" r="3.5"/><circle cx="452" cy="2274" r="3.5"/><circle cx="395" cy="2236" r="2.6"/><circle cx="421" cy="2241" r="2.2"/><circle cx="437" cy="2231" r="3.4"/><circle cx="459" cy="2245" r="2.1"/><circle cx="204" cy="2216" r="3.5"/><circle cx="223" cy="2229" r="2.9"/><circle cx="247" cy="2220" r="2.3"/><circle cx="267" cy="2243" r="3.1"/><circle cx="247" cy="2255" r="2.1"/><circle cx="498" cy="2235" r="2.6"/><circle cx="519" cy="2239" r="3.3"/><circle cx="537" cy="2226" r="2.1"/></g>
<path d="M475 2226 Q468 2245 476 2262" fill="none" stroke="#238238" stroke-width="1.2" opacity="0.8"/>
<g fill="#7dd24e" filter="url(#bl1)">
<circle cx="233" cy="2153.5" r="3.8"/><circle cx="244" cy="2147" r="1.8"/><circle cx="247" cy="2158" r="2"/><circle cx="269" cy="2146" r="1.8"/>
<circle cx="282" cy="2142" r="1.8"/><circle cx="310" cy="2138" r="1.5"/><circle cx="325" cy="2143" r="1.5"/><circle cx="383" cy="2146" r="1.6"/>
<circle cx="381" cy="2127" r="1.5"/><circle cx="481" cy="2125" r="2.4"/><circle cx="501" cy="2141" r="2"/><circle cx="497" cy="2155" r="2"/>
<circle cx="520" cy="2131" r="1.6"/><circle cx="486" cy="2163" r="1.4"/><circle cx="420" cy="2141" r="1.5"/><circle cx="535" cy="2160" r="1.5"/>
<circle cx="487" cy="2259" r="3"/><circle cx="494" cy="2264" r="2.6"/><circle cx="509" cy="2263" r="2.5"/><circle cx="520" cy="2256" r="2.3"/><circle cx="533" cy="2265" r="3.3"/><circle cx="531" cy="2247" r="1.6"/>
<circle cx="181" cy="2273" r="3"/><circle cx="357" cy="2269" r="1.3"/><circle cx="283" cy="2280" r="1.2"/><circle cx="263" cy="2246" r="1.2"/><circle cx="303" cy="2238" r="1.3"/>
</g>
</g>
<rect x="170.5" y="2286.2" width="381.5" height="3.2" fill="#fff"/>
<g clip-path="url(#ci2)">
<rect x="170.5" y="2289.4" width="381" height="168.2" fill="#0e4929"/>
<g filter="url(#bl4)">
<ellipse cx="345" cy="2327" rx="80" ry="13" fill="#09351a"/>
<ellipse cx="520" cy="2300" rx="60" ry="14" fill="#0b3d20"/>
</g>
<g filter="url(#bl2)">
<path d="M248 2287 Q324 2327 402 2287 Z" fill="#041f0e"/>
</g>
<path d="M244 2293 Q324 2332 406 2291" fill="none" stroke="#1d6a36" stroke-width="2.2" stroke-dasharray="1.6 1.4" opacity="0.9"/>
<path d="M262 2316 Q300 2322 330 2331 Q360 2338 400 2334" fill="none" stroke="#1f6f36" stroke-width="2" opacity="0.6" filter="url(#bl1)"/>
<g filter="url(#bl3)">
<ellipse cx="203" cy="2398" rx="33" ry="10" transform="rotate(14 203 2398)" fill="#2aa53e"/>
<path d="M322 2380 Q330 2364 345 2367 Q360 2372 372 2398 Q350 2400 330 2392 Z" fill="#2ca73e"/>
<ellipse cx="518" cy="2344" rx="13" ry="14" transform="rotate(20 518 2344)" fill="#228f3d"/>
<ellipse cx="473" cy="2429" rx="17" ry="13" fill="#1a7538"/>
</g>
<rect x="170.5" y="2289.4" width="381" height="168.2" filter="url(#noise)" opacity="0.4"/>
<path d="M170.5 2411.5 L208.2 2457.6 L170.5 2457.6 Z" fill="#000"/>
<path d="M551.5 2422.8 L551.5 2457.6 L510.3 2457.6 Z" fill="#000"/>
</g>
<g fill="#fff">
<path d="M203.2 2413.5 L199.2 2424.5 L203.2 2421.2 L207.2 2424.5 Z"/>
<path d="M346 2400 L342 2411 L346 2407.7 L350 2411 Z"/>
<path d="M519 2359 L515 2370 L519 2366.7 L523 2370 Z"/>
<path d="M443.3 2447 L439.3 2458 L443.3 2454.7 L447.3 2458 Z"/>
</g>
<rect x="178.3" y="2269.9" width="37" height="2" fill="#fff"/>
<rect x="176.9" y="2442" width="37.6" height="2" fill="#fff"/>
<text x="171.8" y="2264.5" font-size="20.6" fill="#fff" style="font-weight:normal">10 µm</text>
<text transform="translate(159 2202.2) rotate(-90)" text-anchor="middle" font-size="28" fill="#231815">Control</text>
<text transform="translate(130 2372.6) rotate(-90)" text-anchor="middle" font-size="28.4" fill="#231815">Intestinal</text>
<text transform="translate(162 2369.4) rotate(-90)" text-anchor="middle" font-size="28" fill="#231815">DAF-2 (-)</text>
</g>

</svg></body></html>
